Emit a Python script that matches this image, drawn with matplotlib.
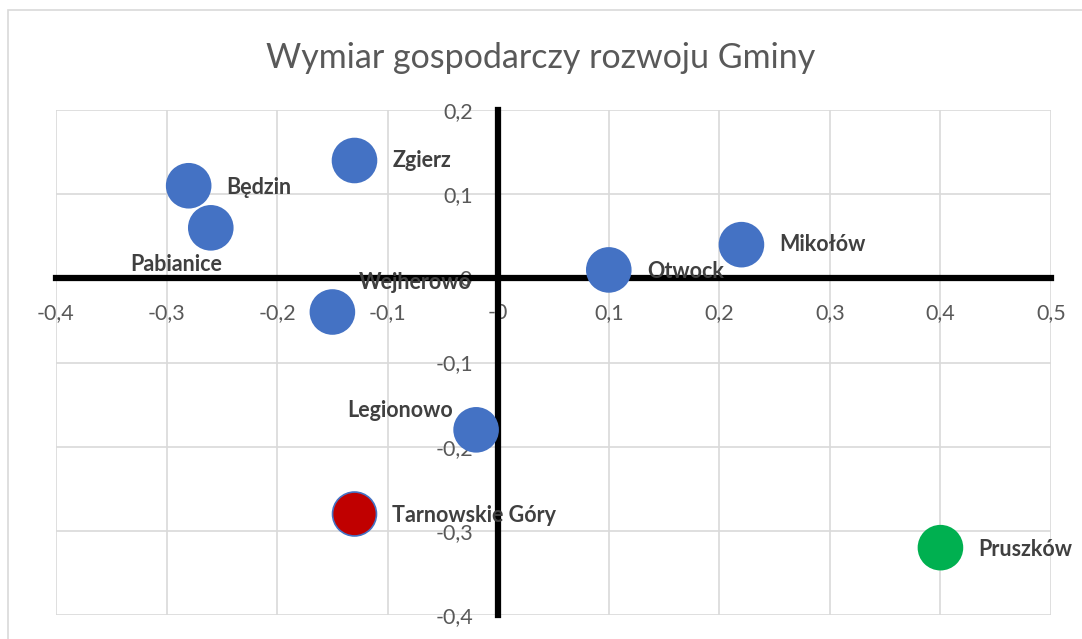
import matplotlib.pyplot as plt
from matplotlib.patches import Rectangle
from matplotlib.ticker import FuncFormatter
import numpy as np

plt.rcParams['font.family'] = ['Lato', 'DejaVu Sans']

# Data
names = ["Będzin", "Pabianice", "Zgierz", "Wejherowo", "Otwock", "Mikołów",
         "Legionowo", "Tarnowskie Góry", "Pruszków"]
x_vals = [-0.28, -0.26, -0.13, -0.15, 0.10, 0.22, -0.02, -0.13, 0.40]
y_vals = [0.11, 0.06, 0.14, -0.04, 0.01, 0.04, -0.18, -0.28, -0.32]
colors = ["#4472C4"] * 7 + ["#C00000", "#00B050"]
edge_colors = ["#4472C4"] * 8 + ["#00B050"]

# label offsets in pixels (label anchor relative to point)
offsets = [(38, -2), (-35, -37), (38, 0), (83, 30), (38, -2), (38, 0),
           (-76, 19), (38, -2), (38, -2)]
aligns = ["left", "center", "left", "center", "left", "left",
          "center", "left", "left"]

fig = plt.figure(figsize=(10.82, 6.39), dpi=100)
fig.patches.append(Rectangle((8 / 1082, -0.1), 1.2, 1.1 - 10 / 639,
                             transform=fig.transFigure, fill=False,
                             edgecolor="#D9D9D9", linewidth=1.2))

ax = fig.add_axes([56 / 1082, 24 / 639, 995 / 1082, 505 / 639])
ax.set_xlim(-0.4, 0.5)
ax.set_ylim(-0.4, 0.2)
ax.set_xticks(np.arange(-0.4, 0.51, 0.1))
ax.set_yticks(np.arange(-0.4, 0.21, 0.1))
ax.grid(True, color="#D9D9D9", linewidth=1.2)
ax.set_axisbelow(True)

for side in ["top", "right"]:
    ax.spines[side].set_visible(False)
for side in ["left", "bottom"]:
    ax.spines[side].set_position("zero")
    ax.spines[side].set_linewidth(4.5)
    ax.spines[side].set_color("black")
    ax.spines[side].set_zorder(2)

fmt = FuncFormatter(lambda v, p: ("%g" % round(v, 1)).replace(".", ","))
ax.xaxis.set_major_formatter(fmt)
ax.yaxis.set_major_formatter(fmt)
ax.tick_params(axis="both", length=0, labelsize=15.5, labelcolor="#595959")
ax.tick_params(axis="x", pad=18)
ax.tick_params(axis="y", pad=18)

ax.scatter(x_vals, y_vals, s=1000, c=colors, edgecolors=edge_colors,
           linewidths=1.2, zorder=3, clip_on=False)

for name, x, y, off, ha in zip(names, x_vals, y_vals, offsets, aligns):
    ax.annotate(name, (x, y), xytext=off, textcoords="offset pixels",
                ha=ha, va="center", fontsize=15.5, fontweight="bold",
                color="#404040", zorder=4)

fig.suptitle("Wymiar gospodarczy rozwoju Gminy", y=1 - 58 / 639, va="center",
             fontsize=24.5, color="#595959")

fig.savefig("out.png", dpi=100)
